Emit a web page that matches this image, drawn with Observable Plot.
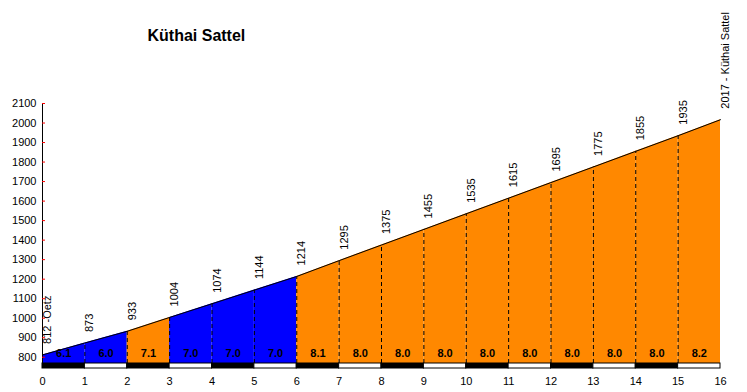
<!DOCTYPE html>
<html>
<head>
<meta charset="utf-8">
<script src="https://cdn.jsdelivr.net/npm/d3@7"></script>
<script src="https://cdn.jsdelivr.net/npm/@observablehq/plot@0.6"></script>
<style>
  html, body { margin: 0; padding: 0; background: #fff; }
  #chart svg { display: block; }
</style>
</head>
<body>
<div id="chart"></div>
<script>
const title = "Küthai Sattel";
const km = [0, 1, 2, 3, 4, 5, 6, 7, 8, 9, 10, 11, 12, 13, 14, 15, 16];
const elevation = [812, 873, 933, 1004, 1074, 1144, 1214, 1295, 1375, 1455, 1535, 1615, 1695, 1775, 1855, 1935, 2017];
const elevationLabels = ["812 -Oetz", "873", "933", "1004", "1074", "1144", "1214", "1295", "1375", "1455", "1535", "1615", "1695", "1775", "1855", "1935", "2017 - Küthai Sattel"];
const gradient = [6.1, 6.0, 7.1, 7.0, 7.0, 7.0, 8.1, 8.0, 8.0, 8.0, 8.0, 8.0, 8.0, 8.0, 8.0, 8.2];
const yTicks = [800, 900, 1000, 1100, 1200, 1300, 1400, 1500, 1600, 1700, 1800, 1900, 2000, 2100];
const xTicks = km;
const yDomain = [768, 2100];

const colorFor = g => g > 7.0 ? "#FF8800" : "#0000FF";

// segments
const segments = km.slice(0, -1).map((k, i) => ({
  seg: i, x1: k, x2: km[i + 1], mid: (k + km[i + 1]) / 2,
  g: gradient[i], fill: colorFor(gradient[i]),
  bar: i % 2 === 0 ? "black" : "white"
}));
const areaPts = segments.flatMap(s => [
  {seg: s.seg, x: s.x1, y: elevation[s.seg], fill: s.fill},
  {seg: s.seg, x: s.x2, y: elevation[s.seg + 1], fill: s.fill}
]);
const points = km.map((k, i) => ({x: k, y: elevation[i], label: elevationLabels[i]}));
const inner = points.slice(1, -1);

const W = 747, ML = 42, MR = 27;

const plot = Plot.plot({
  width: W,
  height: 392,
  marginLeft: ML,
  marginRight: MR,
  marginTop: 103,
  marginBottom: 29,
  style: {fontFamily: "'Liberation Sans', Arial, sans-serif", fontSize: "11px", background: "#fff", color: "black"},
  x: {domain: [0, 16]},
  y: {domain: yDomain},
  marks: [
    Plot.areaY(areaPts, {x: "x", y1: yDomain[0], y2: "y", z: "seg", fill: d => d.fill}),
    Plot.line(points, {x: "x", y: "y", stroke: "black", strokeWidth: 1}),
    Plot.ruleX(inner, {x: "x", y1: yDomain[0], y2: "y", stroke: "black", strokeDasharray: "4,3", strokeWidth: 1}),
    Plot.rect(segments, {x1: "x1", x2: "x2", insetTop: 260, insetBottom: -5, fill: "bar", stroke: "black", strokeWidth: 1}),
    Plot.ruleX([0], {stroke: "black", strokeWidth: 1}),
    Plot.tickY(yTicks, {y: d => d, stroke: "red", strokeWidth: 1, insetRight: (W - ML - MR) - 3}),
    Plot.axisY({ticks: yTicks, tickSize: 0, tickPadding: 6, tickFormat: d => String(d), label: null, fontSize: 11}),
    Plot.axisX({ticks: xTicks, tickSize: 0, tickPadding: 14, tickFormat: d => String(d), label: null, fontSize: 11}),
    Plot.text(segments, {x: "mid", frameAnchor: "bottom", dy: -7, text: d => d.g.toFixed(1), fontWeight: "bold", fontSize: 11, fill: "black"}),
    Plot.text(points, {x: "x", y: "y", text: "label", rotate: -90, textAnchor: "start", dx: 5, dy: -11, fontSize: 11, fill: "black"}),
    Plot.text([title], {frameAnchor: "top-left", dx: 105, dy: -74, text: d => d, fontWeight: "bold", fontSize: 16, textAnchor: "start", fill: "black"})
  ]
});
document.getElementById("chart").appendChild(plot);
</script>
</body>
</html>
